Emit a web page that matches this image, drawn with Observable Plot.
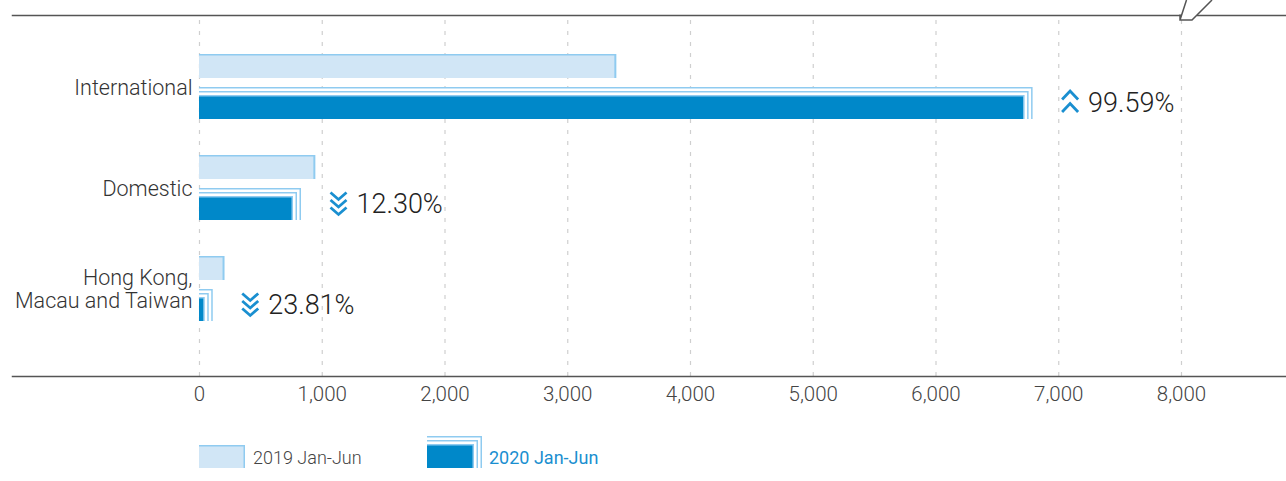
<!DOCTYPE html>
<html>
<head>
<meta charset="utf-8">
<script src="https://cdn.jsdelivr.net/npm/d3@7"></script>
<script src="https://cdn.jsdelivr.net/npm/@observablehq/plot@0.6"></script>
<style>
  html, body { margin: 0; padding: 0; background: #fff; }
  body { width: 1286px; height: 481px; overflow: hidden; position: relative; font-family: Roboto, "Noto Sans", sans-serif; }
  #chart svg { display: block; }
  #notch { position: absolute; left: 0; top: 0; }
  #legend { display: block; }
</style>
</head>
<body>
<div id="chart"></div>
<svg id="notch" width="1286" height="30" viewBox="0 0 1286 30">
  <rect x="1181" y="12" width="16" height="6" fill="#fff"/>
  <path d="M1180,14.5 L1180,20 L1192,20 L1212,0 M1180,20 L1186.5,0" fill="none" stroke="#555" stroke-width="1.5"/>
</svg>
<svg id="legend" width="1286" height="61" viewBox="0 0 1286 61">
  <rect x="199" y="25" width="46" height="23" fill="#8fcbf0"/>
  <rect x="199" y="26.5" width="44.5" height="21.5" fill="#d1e6f6"/>
  <text x="253" y="44" font-size="18" font-weight="300" fill="#444" font-family="Roboto, sans-serif">2019 Jan-Jun</text>
  <rect x="427" y="16" width="55" height="32" fill="#8fcbf0"/>
  <rect x="427" y="17.5" width="53.5" height="30.5" fill="#fff"/>
  <rect x="427" y="20" width="51" height="28" fill="#8fcbf0"/>
  <rect x="427" y="21.5" width="49.5" height="26.5" fill="#fff"/>
  <rect x="427" y="24" width="47" height="24" fill="#8fcbf0"/>
  <rect x="427" y="25.5" width="45.5" height="22.5" fill="#0088c9"/>
  <text x="489" y="44" font-size="18" fill="#1a8fd0" font-family="Roboto, sans-serif">2020 Jan-Jun</text>
</svg>
<script>
// ---- data ----
const categories = ["International", "Domestic", "Hong Kong,\nMacau and Taiwan"];
const values2019 = [3400, 948, 208];
const values2020 = [6791, 831, 112];
const changeLabels = ["99.59%", "12.30%", "23.81%"];
const changeDirection = ["up", "down", "down"];
const xTicks = [0, 1000, 2000, 3000, 4000, 5000, 6000, 7000, 8000];

const rows = categories.map((c, i) => ({
  cat: c, v19: values2019[i], v20: values2020[i],
  label: changeLabels[i], dir: changeDirection[i]
}));

// ---- colours ----
const EDGE = "#8fcbf0", LIGHT = "#d1e6f6", DARK = "#0088c9", ICON = "#1a8fd0";

// ---- custom chevron symbols ----
const upSymbol = {
  draw(ctx) {
    for (const a of [-12, 0.5]) {
      ctx.moveTo(-8, a + 8.5); ctx.lineTo(0, a); ctx.lineTo(8, a + 8.5);
    }
  }
};
const downSymbol = {
  draw(ctx) {
    for (const a of [-4.5, 3, 10.5]) {
      ctx.moveTo(-8, a - 7); ctx.lineTo(0, a); ctx.lineTo(8, a - 7);
    }
  }
};

// 2020 layered bars
const layerMarks = [];
[0, 1, 2].forEach(k => {
  layerMarks.push(Plot.barX(rows, {x: "v20", y: "cat", fill: EDGE, insetTop: 33 + 4 * k, insetRight: 4 * k}));
  layerMarks.push(Plot.barX(rows, {x: "v20", y: "cat", fill: k < 2 ? "#fff" : DARK, insetTop: 34.5 + 4 * k, insetRight: 4 * k + 1.5}));
});

const chart = Plot.plot({
  width: 1286,
  height: 420,
  marginLeft: 199,
  marginRight: 105,
  marginTop: 15,
  marginBottom: 44,
  style: {fontFamily: "Roboto, 'Noto Sans', sans-serif", background: "#fff", overflow: "visible"},
  x: {domain: [0, 8000], axis: null},
  y: {domain: categories, range: [53, 321], paddingInner: 0.36, paddingOuter: 0, axis: null},
  marks: [
    Plot.gridX(xTicks, {stroke: "#cfcfcf", strokeOpacity: 1, strokeDasharray: "4,7", strokeWidth: 1.2, insetTop: 5}),
    // frame lines
    Plot.frame({anchor: "top", stroke: "#555", strokeWidth: 1.5, insetLeft: -187, insetRight: -105}),
    Plot.frame({anchor: "bottom", stroke: "#555", strokeWidth: 1.5, insetLeft: -187, insetRight: -105}),
    // 2019 bars
    Plot.barX(rows, {x: "v19", y: "cat", fill: EDGE, insetBottom: 41}),
    Plot.barX(rows, {x: "v19", y: "cat", fill: LIGHT, insetBottom: 41, insetTop: 1.5, insetRight: 2}),
    ...layerMarks,
    // x axis
    Plot.axisX(xTicks, {anchor: "bottom", tickSize: 0, tickPadding: 10, fontSize: 20.5, fontWeight: 300, fill: "#444", tickFormat: d3.format(","), label: null}),
    // category labels
    Plot.text(rows, {y: "cat", text: "cat", frameAnchor: "left", dx: -7, textAnchor: "end", fontSize: 21.5, fontWeight: 300, fill: "#333", lineHeight: 1.1}),
    // change icons
    Plot.dot(rows.filter(d => d.dir === "up"), {x: "v20", y: "cat", dx: 37, dy: 16, symbol: upSymbol, r: 10, fill: "none", stroke: ICON, strokeWidth: 2.8, strokeLinejoin: "miter"}),
    Plot.dot(rows.filter(d => d.dir === "down"), {x: "v20", y: "cat", dx: 37, dy: 16, symbol: downSymbol, r: 10, fill: "none", stroke: ICON, strokeWidth: 2.8, strokeLinejoin: "miter"}),
    // change labels
    Plot.text(rows, {x: "v20", y: "cat", text: "label", dx: 55, dy: 16.5, textAnchor: "start", fontSize: 27, fontWeight: 300, fill: "#222", letterSpacing: 0.6})
  ]
});
document.getElementById("chart").appendChild(chart);
</script>
</body>
</html>
